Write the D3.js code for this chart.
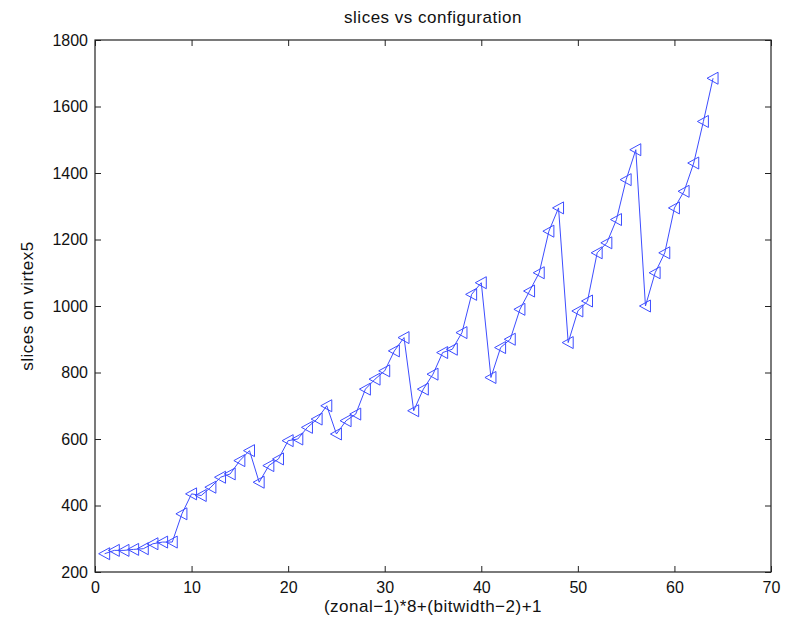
<!DOCTYPE html>
<html>
<head>
	<style>
		body { margin: 0; background: #fff; }
		text { font-family: "Liberation Sans", Arial, sans-serif; }
	</style>
	<script src="https://d3js.org/d3.v7.min.js"></script>
</head>
<body>
	<svg id="chart" width="790" height="626"></svg>
<script>
// configuration index 1..64
var configs = d3.range(1, 65);
var slices = [
	255, 265, 265, 268, 270, 285, 290, 290,
	375, 435, 430, 455, 485, 495, 535, 565,
	470, 520, 540, 595, 600, 635, 660, 700,
	615, 655, 675, 750, 780, 805, 865, 905,
	685, 750, 795, 860, 870, 920, 1035, 1070,
	785, 875, 900, 990, 1045, 1100, 1225, 1295,
	890, 985, 1015, 1160, 1190, 1260, 1380, 1470,
	1000, 1100, 1160, 1295, 1345, 1430, 1555, 1685
];
var xTicks = [0, 10, 20, 30, 40, 50, 60, 70];
var yTicks = [200, 400, 600, 800, 1000, 1200, 1400, 1600, 1800];

var svg = d3.select("#chart");
var margin = {top: 40, right: 19, bottom: 54, left: 95};
var w = 790 - margin.left - margin.right;
var h = 626 - margin.top - margin.bottom;

var x = d3.scaleLinear().domain([0, 70]).range([0, w]);
var y = d3.scaleLinear().domain([200, 1800]).range([h, 0]);

var g = svg.append("g").attr("transform", "translate(" + margin.left + "," + margin.top + ")");

// box
g.append("rect").attr("width", w).attr("height", h)
	.attr("fill", "white").attr("stroke", "#222").attr("stroke-width", 1.2);

// axes, ticks inward like matlab
var axBottom = g.append("g").attr("transform", "translate(0," + h + ")")
	.call(d3.axisBottom(x).tickValues(xTicks).tickSizeInner(-6).tickSizeOuter(0).tickPadding(10).tickFormat(d3.format("d")));
var axTop = g.append("g")
	.call(d3.axisTop(x).tickValues(xTicks).tickSizeInner(-6).tickSizeOuter(0).tickFormat(""));
var axLeft = g.append("g")
	.call(d3.axisLeft(y).tickValues(yTicks).tickSizeInner(-6).tickSizeOuter(0).tickPadding(7).tickFormat(d3.format("d")));
var axRight = g.append("g").attr("transform", "translate(" + w + ",0)")
	.call(d3.axisRight(y).tickValues(yTicks).tickSizeInner(-6).tickSizeOuter(0).tickFormat(""));

[axBottom, axTop, axLeft, axRight].forEach(function(a){
	a.select(".domain").remove();
	a.selectAll("line").attr("stroke", "#222");
	a.selectAll("text").attr("fill", "#111").style("font-size", "16px").style("font-family", "'Liberation Sans', Arial, sans-serif");
});

// line
var line = d3.line().x(function(d, i){ return x(configs[i]); }).y(function(d){ return y(d); });
g.append("path").datum(slices)
	.attr("d", line)
	.attr("fill", "none")
	.attr("stroke", "#3d4dff")
	.attr("stroke-width", 1);

// left-pointing triangle markers
g.selectAll("path.mk").data(slices).enter().append("path")
	.attr("class", "mk")
	.attr("transform", function(d, i){ return "translate(" + x(configs[i]) + "," + y(d) + ")"; })
	.attr("d", "M-6,0L5,-6L5,6Z")
	.attr("fill", "none")
	.attr("stroke", "#3d4dff")
	.attr("stroke-width", 1);

// labels
svg.append("text").attr("x", margin.left + w / 2).attr("y", 23)
	.attr("text-anchor", "middle").style("font-size", "17px").style("letter-spacing", "0.5px").attr("fill", "#111")
	.text("slices vs configuration");
svg.append("text").attr("x", margin.left + w / 2).attr("y", 612)
	.attr("text-anchor", "middle").style("font-size", "17px").style("letter-spacing", "0.5px").attr("fill", "#111")
	.text("(zonal\u22121)*8+(bitwidth\u22122)+1");
svg.append("text")
	.attr("transform", "translate(33," + (margin.top + h / 2) + ") rotate(-90)")
	.attr("text-anchor", "middle").style("font-size", "17px").style("letter-spacing", "0.5px").attr("fill", "#111")
	.text("slices on virtex5");
</script>
</body>
</html>
